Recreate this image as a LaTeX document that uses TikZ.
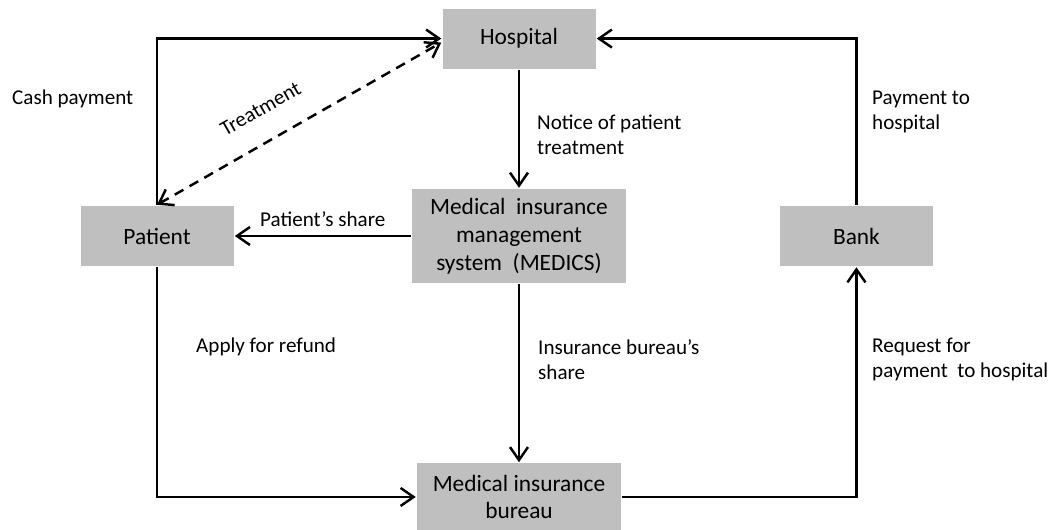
\documentclass[tikz,border=0pt]{standalone}
\usepackage{fontspec}
\setmainfont{Carlito}
\usepackage{tikz}
\usetikzlibrary{positioning,arrows.meta}
\definecolor{boxgray}{RGB}{191,191,191}

\begin{document}
\begin{tikzpicture}[
    >={Straight Barb[length=2.6mm,width=3.6mm]},
    line width=1.4pt,
    every node/.style={font=\fontsize{12}{14.2}\selectfont, inner sep=0pt, align=left},
    box/.style={fill=boxgray, minimum width=3.06cm, minimum height=1.2cm,
align=center, font=\fontsize{13.3}{15.9}\selectfont}]

    \useasboundingbox (0,0) rectangle (21.12,-10.58);

    \node[box, minimum width=4.28cm, minimum height=1.88cm] (medics) at (10.38,-4.72)
        {Medical~ insurance\\management\\system~ (MEDICS)};
    \node[box, above=2.36 of medics] (hosp) {Hospital};
    \node[box, left=3.52 of medics] (pat) {Patient};
    \node[box, right=3.03 of medics] (bank) {Bank};
    \node[box, below=3.56 of medics, minimum width=4.08cm, minimum height=1.34cm] (bureau)
        {Medical insurance\\bureau};

    % flows
    \draw[->] (pat) |- (hosp);
    \draw[<->, dash pattern=on 0.2cm off 0.14cm] (pat.north) -- ([yshift=-0.08cm]hosp.west)
        node[sloped, above=0.48cm, pos=0.42] (treat) {Treatment};
    \draw[->] (hosp) -- (medics);
    \draw[->] (medics) -- (pat) node[above=0.16cm, midway] (share) {Patient’s share};
    \draw[->] (medics) -- (bureau);
    \draw[->] (pat) |- (bureau);
    \draw[->] (bureau) -| (bank);
    \draw[->] (bank) |- (hosp);

    % labels
    \node[anchor=west] (cash) at (0.22,-1.98) {Cash payment};
    \node[anchor=west] (notice) at (10.72,-2.69) {Notice of patient\\treatment};
    \node[anchor=west] (payhosp) at (17.42,-2.23) {Payment to\\hospital};
    \node[anchor=west] (refund) at (3.9,-6.94) {Apply for refund};
    \node[anchor=west] (bshare) at (10.74,-7.19) {Insurance bureau’s\\share};
    \node[anchor=west] (request) at (17.42,-7.19) {Request for\\payment~ to hospital};

\end{tikzpicture}
\end{document}
